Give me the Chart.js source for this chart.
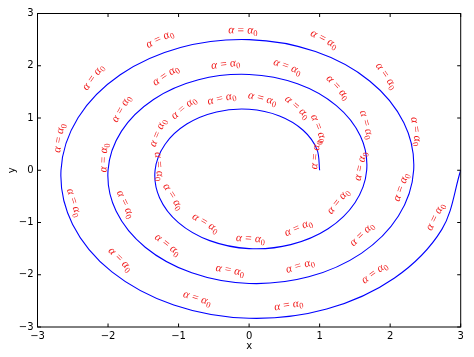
<!DOCTYPE html>
<html>
<head>
<meta charset="utf-8">
<script src="https://cdn.jsdelivr.net/npm/chart.js@4.4.1/dist/chart.umd.min.js"></script>
<style>
  html, body { margin: 0; padding: 0; background: #ffffff; }
  canvas { display: block; }
</style>
</head>
<body>
<canvas id="c" width="474" height="357"></canvas>
<script>
// ---- data ----
const spiralX = [1.000, 0.962, 0.766, 0.431, 0.000, -0.462, -0.884, -1.193, -1.333, -1.270, -1.002, -0.558, 0.000, 0.590, 1.120, 1.501,
  1.667, 1.578, 1.237, 0.686, 0.000, -0.718, -1.355, -1.809, -2.000, -1.886, -1.473, -0.813, 0.000, 0.845, 1.591, 2.117,
  2.333, 2.194, 1.709, 0.941, 0.000, -0.973, -1.827, -2.425, -2.667, -2.502, -1.945, -1.068, 0.000, 1.100, 2.062, 2.733, 3.000];
const spiralY = [0.000, 0.399, 0.766, 1.039, 1.167, 1.116, 0.884, 0.494, 0.000, -0.526, -1.002, -1.347, -1.500, -1.424, -1.120, -0.622,
  0.000, 0.654, 1.237, 1.655, 1.833, 1.732, 1.355, 0.749, 0.000, -0.781, -1.473, -1.963, -2.167, -2.040, -1.591, -0.877,
  0.000, 0.909, 1.709, 2.271, 2.500, 2.348, 1.827, 1.005, 0.000, -1.036, -1.945, -2.579, -2.833, -2.656, -2.062, -1.132, 0.000];

// annotation anchors (on the curve) and their rotation in degrees
const labelX = [1.000, 0.935, 0.644, 0.176, -0.376, -0.890, -1.240, -1.333, -1.126, -0.645, 0.018, 0.722, 1.309, 1.635,
  1.610, 1.217, 0.524, -0.326, -1.151, -1.759, -2.002, -1.805, -1.191, -0.279, 0.740, 1.640, 2.211,
  2.312, 1.897, 1.038, -0.089, -1.242, -2.163, -2.636, -2.536, -1.866, -0.753, 0.569, 1.811, 2.692];
const labelY = [0.000, 0.478, 0.892, 1.137, 1.140, 0.879, 0.393, -0.222, -0.834, -1.300, -1.501, -1.373, -0.923, -0.233,
  0.553, 1.261, 1.724, 1.823, 1.515, 0.847, -0.047, -0.977, -1.733, -2.135, -2.075, -1.545, -0.644,
  0.442, 1.476, 2.223, 2.502, 2.232, 1.450, 0.313, -0.938, -2.026, -2.702, -2.797, -2.271, -1.220];
const labelAngle = [83.9, -68.7, -41.4, -14.1, 13.2, 40.5, 67.8, -85.0, -57.8, -30.6, -3.4, 23.8, 51.0, 78.2,
  -74.6, -47.5, -20.3, 6.9, 34.0, 61.2, 88.3, -64.5, -37.4, -10.3, 16.9, 44.0, 71.1,
  -81.8, -54.6, -27.5, -0.4, 26.7, 53.8, 80.9, -72.0, -44.9, -17.7, 9.4, 36.5, 63.6];
// label text pieces: α = α with subscript 0
const labelParts = ['\u03B1', '=', '\u03B1', '0'];

const xTicks = [-3, -2, -1, 0, 1, 2, 3];
const yTicks = [-3, -2, -1, 0, 1, 2, 3];
const xTitle = 'x';
const yTitle = 'y';

// ---- chart ----
const fmt = v => (v < 0 ? '\u2212' + Math.abs(v) : String(v));
const tickFont = { family: '"DejaVu Sans", sans-serif', size: 10 };

const points = spiralX.map((x, i) => ({ x: x, y: spiralY[i] }));

function drawLabel(ctx, ax, ay, deg) {
  const fs = 11.5;
  const fIt = 'italic ' + fs + 'px "Liberation Serif", serif';
  const fUp = fs + 'px "Liberation Serif", serif';
  const fSub = '8.5px "Liberation Serif", serif';
  const gap = 3.2;
  const pieces = [
    { t: labelParts[0], f: fIt, dy: 0 },
    { gap: gap },
    { t: labelParts[1], f: fUp, dy: 0 },
    { gap: gap },
    { t: labelParts[2], f: fIt, dy: 0 },
    { t: labelParts[3], f: fSub, dy: 2.5 }
  ];
  let w = 0;
  pieces.forEach(p => {
    if (p.gap) { p.w = p.gap; } else { ctx.font = p.f; p.w = ctx.measureText(p.t).width; }
    w += p.w;
  });
  const h = 10;
  const phi = deg * Math.PI / 180;
  const H = w * Math.abs(Math.sin(phi)) + h * Math.abs(Math.cos(phi));
  let cx = ax, cy = ay - H / 2;
  const shift = 3.5;
  cx += -Math.sin(phi) * shift;
  cy += -Math.cos(phi) * shift;
  ctx.save();
  ctx.translate(cx, cy);
  ctx.rotate(-phi);
  ctx.fillStyle = 'rgb(240,25,25)';
  ctx.textBaseline = 'alphabetic';
  ctx.textAlign = 'left';
  let x = -w / 2;
  const base = 2.5;
  pieces.forEach(p => {
    if (!p.gap) { ctx.font = p.f; ctx.fillText(p.t, x, base + p.dy); }
    x += p.w;
  });
  ctx.restore();
}

const framePlugin = {
  id: 'frame',
  afterDraw(chart) {
    const { ctx, chartArea: a, scales } = chart;
    ctx.save();
    ctx.strokeStyle = '#000000';
    ctx.lineWidth = 1;
    ctx.strokeRect(a.left, a.top, a.right - a.left, a.bottom - a.top);
    const tl = 3.5;
    ctx.beginPath();
    xTicks.forEach(v => {
      const px = scales.x.getPixelForValue(v);
      ctx.moveTo(px, a.bottom); ctx.lineTo(px, a.bottom - tl);
      ctx.moveTo(px, a.top); ctx.lineTo(px, a.top + tl);
    });
    yTicks.forEach(v => {
      const py = scales.y.getPixelForValue(v);
      ctx.moveTo(a.left, py); ctx.lineTo(a.left + tl, py);
      ctx.moveTo(a.right, py); ctx.lineTo(a.right - tl, py);
    });
    ctx.stroke();
    // annotations
    labelX.forEach((lx, i) => {
      const px = scales.x.getPixelForValue(lx);
      const py = scales.y.getPixelForValue(labelY[i]);
      drawLabel(ctx, px, py, labelAngle[i]);
    });
    ctx.restore();
  }
};

new Chart(document.getElementById('c'), {
  type: 'scatter',
  data: {
    datasets: [{
      data: points,
      showLine: true,
      borderColor: '#0000ff',
      borderWidth: 1.1,
      pointRadius: 0,
      tension: 0.34,
      fill: false
    }]
  },
  options: {
    responsive: false,
    animation: false,
    devicePixelRatio: 1,
    layout: { padding: { top: 13.5, right: 13.3, left: 0, bottom: 0 } },
    plugins: { legend: { display: false }, tooltip: { enabled: false } },
    scales: {
      x: {
        type: 'linear', min: -3, max: 3,
        afterBuildTicks: s => { s.ticks = xTicks.map(v => ({ value: v })); },
        afterFit: s => { s.height = 30; },
        ticks: { font: tickFont, color: '#000000', padding: 3, maxRotation: 0, autoSkip: false, callback: v => fmt(v) },
        grid: { display: false, drawTicks: false },
        border: { display: false },
        title: { display: true, text: xTitle, font: tickFont, color: '#000000', padding: { top: 0, bottom: 5 } }
      },
      y: {
        type: 'linear', min: -3, max: 3,
        afterBuildTicks: s => { s.ticks = yTicks.map(v => ({ value: v })); },
        afterFit: s => { s.width = 37.5; },
        ticks: { font: tickFont, color: '#000000', padding: 4, autoSkip: false, callback: v => fmt(v) },
        grid: { display: false, drawTicks: false },
        border: { display: false },
        title: { display: true, text: yTitle, font: tickFont, color: '#000000', padding: { top: 6, bottom: 0 } }
      }
    }
  },
  plugins: [framePlugin]
});
</script>
</body>
</html>
